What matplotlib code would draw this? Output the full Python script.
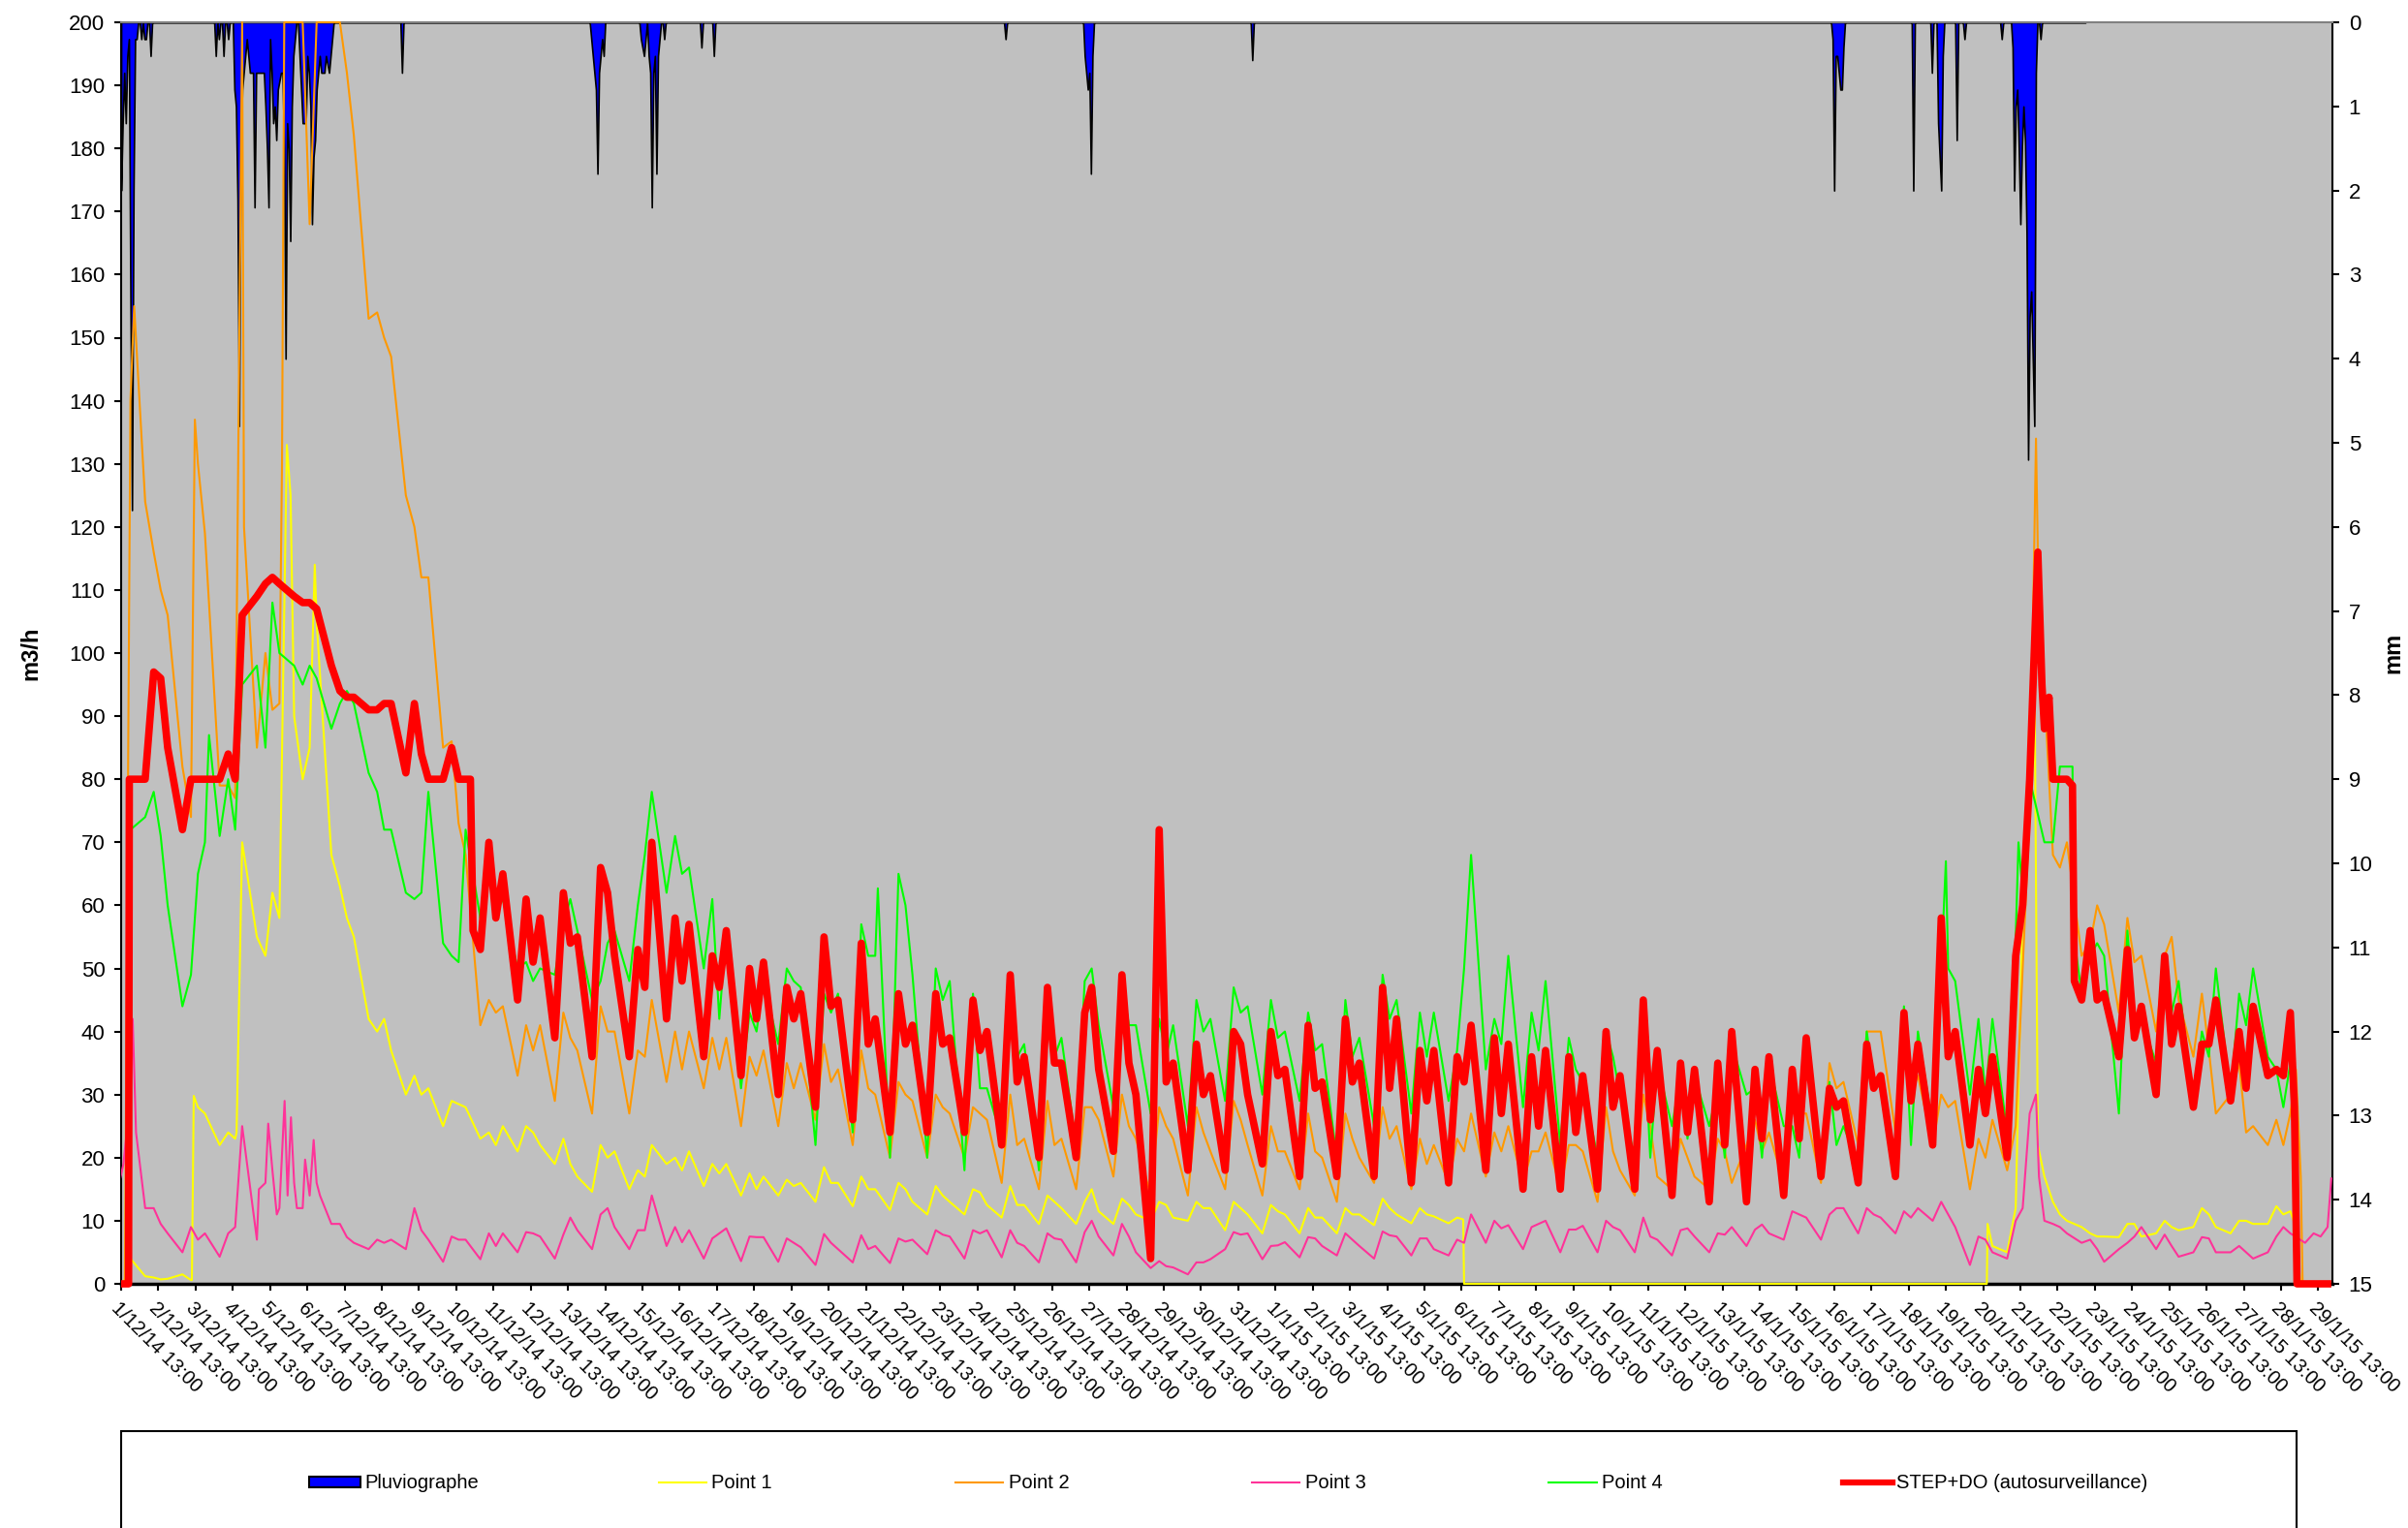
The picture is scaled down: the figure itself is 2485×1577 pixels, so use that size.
import numpy as np
import matplotlib
matplotlib.use("Agg")
import matplotlib.pyplot as plt
from matplotlib.patches import Rectangle
from matplotlib.lines import Line2D
from matplotlib.transforms import ScaledTranslation

plt.rcParams["font.family"] = ["Liberation Sans", "DejaVu Sans"]

W, H = 2485, 1577
GREY = "#C0C0C0"
C_RAIN = "#0000FF"
C_P1 = "#FFFF00"
C_P2 = "#FF9900"
C_P3 = "#FF3399"
C_P4 = "#00FF00"
C_STEP = "#FF0000"
nan = np.nan

# one tick per day, 13:00
TICK_LABELS = [f"{d}/12/14 13:00" for d in range(1, 32)] + [f"{d}/1/15 13:00" for d in range(1, 30)]

# four readings per day, offsets (days) from the 13:00 tick: 04:30, 10:00, 14:30, 19:00
SAMPLE_OFFSETS = [-0.354, -0.125, 0.0625, 0.25]

# STEP+DO (autosurveillance), m3/h, one row per day
STEP = [
    [0, 0, 0, 80], [80, 97, 96, 85], [72, 80, 80, 80], [80, 84, 80, 106], [109, 111, 112, 111],
    [109, 108, 108, 107], [98, 94, 93, 93], [91, 91, 92, 92], [81, 92, 84, 80], [80, 85, 80, 80],
    [53, 70, 58, 65], [45, 61, 51, 58], [39, 62, 54, 55], [36, 66, 62, 52], [36, 53, 47, 70],
    [42, 58, 48, 57], [36, 52, 47, 56], [33, 50, 42, 51], [30, 47, 42, 46], [28, 55, 44, 45],
    [26, 54, 38, 42], [24, 46, 38, 41], [24, 46, 38, 39], [24, 45, 37, 40], [22, 49, 32, 36],
    [20, 47, 35, 35], [20, 43, 47, 34], [21, 49, 35, 30], [4, 72, 32, 35], [18, 38, 30, 33],
    [18, 40, 38, 30], [19, 40, 33, 34], [17, 41, 31, 32], [17, 42, 32, 35], [17, 47, 31, 42],
    [16, 37, 29, 37], [16, 36, 32, 41], [18, 39, 27, 38], [15, 36, 25, 37], [15, 36, 24, 33],
    [15, 40, 28, 33], [15, 45, 26, 37], [14, 35, 24, 34], [13, 35, 22, 40], [13, 34, 23, 36],
    [14, 34, 23, 39], [17, 31, 28, 29], [16, 38, 31, 33], [17, 43, 29, 38], [22, 58, 36, 40],
    [22, 34, 27, 36], [20, 52, 60, 80], [88, 80, 80, 80], [45, 56, 45, 46], [36, 53, 39, 44],
    [30, 52, 38, 44], [28, 38, 38, 45], [29, 40, 31, 44], [33, 34, 33, 43], [0, 0, 0, 0],
]
STEP_EXTRA = [(0.2, 0), (0.22, 80), (9.38, 80), (9.45, 56), (51.47, 116), (51.58, 95),
              (51.77, 93), (52.4, 79), (52.45, 48), (58.36, 28), (58.43, 0)]

POINT4 = [
    [nan, nan, nan, 72], [74, 78, 71, 60], [44, 49, 65, 70], [71, 80, 72, 95], [98, 85, 108, 100],
    [98, 95, 98, 96], [88, 92, 94, 92], [81, 78, 72, 72], [62, 61, 62, 78], [54, 52, 51, 72],
    [58, 70, 59, 61], [50, 51, 48, 50], [49, 57, 61, 56], [45, 48, 54, 56], [48, 60, 68, 78],
    [62, 71, 65, 66], [50, 61, 42, 56], [31, 43, 40, 48], [38, 50, 48, 47], [22, 46, 43, 46],
    [24, 57, 52, 52], [20, 65, 60, 49], [20, 50, 45, 48], [18, 46, 31, 31], [23, 42, 36, 38],
    [18, 45, 36, 39], [22, 48, 50, 41], [28, 48, 41, 41], [27, 42, 36, 41], [25, 45, 40, 42],
    [29, 47, 43, 44], [30, 45, 39, 40], [29, 43, 37, 38], [20, 45, 36, 39], [25, 49, 42, 45],
    [27, 43, 36, 43], [29, 37, 50, 68], [34, 42, 38, 52], [28, 43, 37, 48], [22, 39, 34, 32],
    [20, 40, 36, 30], [20, 42, 20, 35], [25, 33, 23, 33], [25, 31, 20, 38], [30, 31, 20, 35],
    [25, 25, 20, 38], [19, 32, 22, 25], [19, 40, 32, 33], [19, 44, 22, 40], [25, 50, 50, 48],
    [30, 42, 30, 42], [24, 55, 62, 80], [70, 70, 82, 82], [46, 52, 54, 52], [27, 56, 42, 42],
    [35, 52, 43, 48], [28, 40, 36, 50], [30, 46, 41, 50], [36, 34, 28, 35], [nan, nan, nan, nan],
]
POINT4_EXTRA = [(2.36, 87), (20.32, 62.7), (49.0, 67), (50.95, 70), (52.4, 82), (52.44, 55), (58.31, 26)]

POINT2 = [
    [0, 0, 0, 140], [124, 116, 110, 106], [82, 74, 130, 119], [79, 79, 77, 200], [85, 100, 91, 92],
    [200, 200, 168, 200], [200, 200, 192, 182], [153, 154, 150, 147], [125, 120, 112, 112], [85, 86, 73, 68],
    [41, 45, 43, 44], [33, 41, 37, 41], [29, 43, 39, 37], [27, 44, 40, 40], [27, 37, 36, 45],
    [32, 40, 34, 40], [31, 39, 34, 39], [25, 36, 33, 37], [25, 35, 31, 35], [26, 38, 32, 34],
    [22, 37, 31, 30], [20, 32, 30, 29], [20, 30, 28, 27], [20, 28, 27, 26], [16, 30, 22, 23],
    [15, 29, 22, 23], [15, 28, 28, 26], [17, 30, 25, 23], [14, 28, 25, 23], [14, 28, 24, 21],
    [15, 29, 26, 22], [14, 25, 21, 21], [15, 27, 21, 20], [13, 27, 23, 20], [16, 28, 23, 25],
    [15, 23, 19, 22], [16, 23, 21, 27], [17, 24, 21, 25], [16, 21, 21, 24], [15, 22, 22, 21],
    [13, 28, 21, 18], [14, 30, 25, 17], [15, 23, 20, 17], [15, 23, 21, 16], [22, 26, 21, 24],
    [16, 28, 27, 27], [16, 35, 31, 32], [22, 40, 40, 40], [24, 40, 30, 33], [22, 30, 28, 29],
    [15, 23, 20, 26], [18, 25, 50, 75], [94, 68, 66, 70], [52, 54, 60, 57], [43, 58, 51, 52],
    [40, 52, 55, 45], [36, 46, 37, 27], [30, 35, 24, 25], [22, 26, 22, 27], [0, 0, 0, 0],
]
POINT2_EXTRA = [(0.1, 0), (0.35, 155), (1.98, 137), (3.3, 120), (4.32, 130), (4.38, 200),
                (51.32, 98), (51.42, 134), (51.5, 105), (58.4, 34), (58.53, 17), (58.58, 0)]

POINT1 = [
    [0, 0, 0, 4], [1.2, 1.0, 0.7, 0.8], [1.5, 0.6, 28, 27], [22, 24, 23, 70], [55, 52, 62, 58],
    [90, 80, 85, 105], [68, 63, 58, 55], [42, 40, 42, 37], [30, 33, 30, 31], [25, 29, 28.5, 28],
    [23, 24, 22, 25], [21, 25, 24, 22], [19, 23, 19, 17], [14.6, 22, 20, 21], [15, 18, 17, 22],
    [19, 20, 18, 21], [15.5, 19, 17.5, 19], [14, 17.5, 15, 17], [14, 16.5, 15.5, 16], [13, 18.5, 16, 16],
    [12.3, 17, 15, 15], [11.7, 16, 15, 13], [11, 15.5, 14, 13], [11, 15, 14.5, 12.5], [10.5, 15.5, 12.5, 12.5],
    [9.5, 14, 13, 12], [9.5, 13, 15, 11.5], [9.5, 13.5, 12.5, 11], [10, 13, 12.5, 10.5], [10, 13, 12, 12],
    [8.5, 13, 12, 11], [8, 12.5, 11.5, 11], [8, 12, 10.5, 10.5], [8, 12, 11, 11], [9.3, 13.5, 12, 11],
    [9.6, 12, 11, 10.7], [9.6, 10.5, 0, 0], [0, 0, 0, 0], [0, 0, 0, 0], [0, 0, 0, 0],
    [0, 0, 0, 0], [0, 0, 0, 0], [0, 0, 0, 0], [0, 0, 0, 0], [0, 0, 0, 0],
    [0, 0, 0, 0], [0, 0, 0, 0], [0, 0, 0, 0], [0, 0, 0, 0], [0, 0, 0, 0],
    [0, 0, 0, 6], [5, 12, 60, 90], [17, 13, 11, 10], [9, 8, 7.5, 7.5], [7.4, 9.5, 9.5, 7.5],
    [8, 10, 9, 8.5], [9, 12, 11, 9], [8, 10, 10, 9.5], [9.5, 12.3, 11, 11.5], [0, 0, 0, 0],
]
POINT1_EXTRA = [(1.9, 0.6), (1.95, 29.8), (3.1, 24), (4.45, 133), (4.55, 125), (5.2, 114),
                (36.04, 10.2), (50.1, 0), (50.12, 9.5), (51.38, 97), (51.47, 22), (58.4, 9), (58.52, 0)]

POINT3 = [
    [14, 14, 19, 30], [12, 12, 9.5, 8], [5, 9, 7, 8], [4.3, 8, 9, 25], [7, 16, 18, 12],
    [16, 12, 14, 16], [9.5, 9.5, 7.4, 6.5], [5.5, 7, 6.5, 7], [5.5, 12, 8.5, 7], [3.5, 7.5, 7, 7],
    [3.9, 8, 6, 8], [5, 8.2, 8, 7.5], [4, 7.8, 10.5, 8.5], [5.5, 11, 12, 9], [5.5, 8.5, 8.5, 14],
    [6, 9, 6.6, 8.5], [4, 7.2, 8, 8.8], [3.6, 7.5, 7.4, 7.4], [3.5, 7.2, 6.5, 5.8], [3, 7.9, 6.5, 5.5],
    [3.4, 7.7, 5.5, 6], [3.3, 7.2, 6.7, 7], [4.7, 8.5, 7.8, 7.5], [4, 8.5, 8, 8.5], [4.2, 8.5, 6.5, 6],
    [3.4, 8, 7.2, 7], [3.4, 8.2, 10, 7.5], [4.5, 9.5, 7.5, 5], [2.5, 3.6, 2.8, 2.6], [1.5, 3.4, 3.4, 3.9],
    [5.5, 8.2, 7.8, 8], [3.9, 6, 6.1, 6.6], [4.2, 7.4, 7.2, 6], [4.5, 8, 7, 6], [4, 8.3, 7.7, 7.5],
    [4.5, 7.2, 7.2, 5.5], [4.5, 7, 6.5, 11], [6.5, 10, 8.8, 9.3], [5.5, 9, 9.5, 10], [5, 8.6, 8.6, 9.2],
    [5, 10, 9, 8.5], [5, 10.5, 7.5, 7], [4.5, 8.5, 8.8, 7.5], [5, 8, 7.8, 9], [6, 8.6, 9.4, 8],
    [7, 11.5, 11, 10.5], [7, 11, 12, 12], [8, 12, 11, 10.5], [8, 11.5, 10.5, 12], [10, 13, 11, 9],
    [3, 7.5, 7, 5], [4, 10, 12, 27], [10, 9.5, 9, 8], [6.5, 7, 5.5, 3.5], [5.5, 6.5, 7.5, 9],
    [5.5, 7.8, 6, 4.3], [5, 7.4, 7.2, 5], [5, 6, 5, 4], [5, 7.5, 9, 8], [6.5, 8, 7.5, 9],
]
POINT3_EXTRA = [(0.31, 42), (0.4, 24), (3.7, 15), (3.95, 25.4), (4.18, 11), (4.39, 29), (4.47, 14),
                (4.56, 26.4), (4.72, 12), (4.94, 19.7), (5.17, 22.8), (5.34, 14),
                (51.42, 30), (51.5, 17), (59.35, 16.7)]

# Pluviographe: hourly rain (mm), hour counted from 1/12/14 13:00; hours not listed had no rain
RAIN_END_HOUR = 1266
RAIN_HOURS = (
    [0, 1, 2, 3, 4, 5, 6, 7, 8, 9, 10, 13, 15, 16, 19, 61, 63, 66, 69]
    + list(range(73, 137))
    + [181, 303, 304, 305, 306, 307, 308, 309, 310, 311,
       335, 336, 337, 338, 340, 341, 342, 343, 344, 345, 346, 347, 350, 374, 382, 570,
       621, 622, 623, 624, 625, 626, 729,
       1103, 1104, 1105, 1106, 1107, 1108, 1109, 1110, 1155, 1167, 1171, 1172, 1173, 1174,
       1183, 1188, 1212, 1219, 1220, 1221, 1222, 1223, 1224, 1225, 1226, 1227, 1228, 1229,
       1230, 1231, 1232, 1233, 1234, 1237]
)
RAIN_MM = (
    [2.0, 1.2, 0.6, 1.2, 0.4, 0.2, 3.3, 5.8, 2.0, 0.2, 0.2, 0.2, 0.2, 0.2, 0.4, 0.4, 0.2, 0.4, 0.2]
    + [0.8, 1.0, 2.1, 4.8, 1.5, 0.8, 0.6, 0.4, 0.2, 0.4, 0.6, 0.6, 0.6, 2.2, 0.6, 0.6,
       0.6, 0.6, 0.6, 0.6, 1.0, 1.5, 2.2, 0.2, 0.6, 1.2, 1.0, 1.4, 0.8, 0.7, 0.6, 0.6,
       1.5, 4.0, 1.2, 1.5, 2.6, 1.0, 0.4, 0.2, 0.0, 0.0, 0.4, 0.8, 1.2, 1.2, 1.2, 0.4,
       0.6, 1.0, 2.4, 1.6, 1.4, 0.8, 0.6, 0.4, 0.6, 0.6, 0.6, 0.4, 0.5, 0.6, 0.4, 0.2]
    + [0.6, 0.2, 0.4, 0.6, 0.8, 1.8, 0.6, 0.4, 0.2, 0.4,
       0.2, 0.3, 0.4, 0.2, 0.4, 0.6, 2.2, 0.6, 0.4, 1.8, 0.4, 0.2, 0.2, 0.3, 0.4, 0.2,
       0.4, 0.6, 0.8, 0.6, 1.8, 0.4, 0.45,
       0.2, 2.0, 0.4, 0.4, 0.6, 0.8, 0.8, 0.3, 2.0, 0.6, 1.2, 1.6, 2.0, 0.4,
       1.4, 0.2, 0.2, 0.3, 2.0, 1.0, 0.8, 1.5, 2.4, 1.5, 1.0, 1.4, 2.5, 5.2,
       3.5, 3.2, 4.0, 4.8, 0.6, 0.2]
)


def build(rows, extra):
    t = [d + off for d, row in enumerate(rows) for off in SAMPLE_OFFSETS]
    v = [x for row in rows for x in row]
    t += [e[0] for e in extra]
    v += [e[1] for e in extra]
    order = np.argsort(t, kind="stable")
    return np.asarray(t)[order], np.asarray(v, dtype=float)[order]


def fx(px):
    return px / W


def fy(py):
    return 1 - py / H


fig = plt.figure(figsize=(W / 100, H / 100), dpi=100)
fig.patch.set_facecolor("white")

ax = fig.add_axes([fx(125), fy(1325), fx(2407) - fx(125), fy(23) - fy(1325)])
ax2 = ax.twinx()
ax.set_zorder(ax2.get_zorder() + 1)
ax.patch.set_visible(False)
ax2.patch.set_visible(True)
ax2.patch.set_facecolor(GREY)

# rain on the inverted right axis
rain_t = np.arange(RAIN_END_HOUR + 1) / 24.0
rain = np.zeros(RAIN_END_HOUR + 1)
rain[RAIN_HOURS] = RAIN_MM
ax2.fill_between(rain_t, 0, rain, facecolor=C_RAIN, edgecolor="black", linewidth=1.2)
ax2.set_ylim(15, 0)
ax2.set_yticks(range(0, 16))

# flows, drawn above the axis lines like the original
series = [
    (POINT1, POINT1_EXTRA, C_P1, 1.5),
    (POINT2, POINT2_EXTRA, C_P2, 1.5),
    (POINT3, POINT3_EXTRA, C_P3, 1.5),
    (POINT4, POINT4_EXTRA, C_P4, 1.5),
    (STEP, STEP_EXTRA, C_STEP, 5.5),
]
for rows, extra, color, lw in series:
    t, v = build(rows, extra)
    (ln,) = ax.plot(t, v, color=color, linewidth=lw, solid_joinstyle="round", zorder=3)
    ln.set_clip_path(Rectangle((0, -0.006), 1, 1.012, transform=ax.transAxes))

ax.set_xlim(0, 59.38)
ax.set_ylim(0, 200)
ax.set_yticks(range(0, 201, 10))
ax.set_xticks(range(len(TICK_LABELS)))
ax.set_xticklabels(TICK_LABELS, rotation=-45, ha="left", va="top", rotation_mode="anchor", fontsize=14.5)
shift = ScaledTranslation(5 / 100, 0, fig.dpi_scale_trans)
for lab in ax.get_xticklabels():
    lab.set_transform(lab.get_transform() + shift)

ax.tick_params(axis="y", direction="out", length=5, width=1.5, pad=7, labelsize=16)
ax.tick_params(axis="x", direction="out", length=5, width=1.5, pad=6)
ax2.tick_params(axis="y", direction="out", length=5, width=1.5, pad=7, labelsize=16)

for side in ["left", "bottom", "top"]:
    ax2.spines[side].set_visible(False)
ax2.spines["right"].set_color("black")
ax2.spines["right"].set_linewidth(1.5)
ax.spines["right"].set_visible(False)
ax.spines["left"].set_color("black")
ax.spines["left"].set_linewidth(1.5)
ax.spines["bottom"].set_color("black")
ax.spines["bottom"].set_linewidth(2.5)
ax.spines["top"].set_color("#808080")
ax.spines["top"].set_linewidth(1.5)

fig.text(fx(32), fy(674), "m3/h", rotation=90, fontsize=17, fontweight="bold", ha="center", va="center")
fig.text(fx(2470), fy(674), "mm", rotation=90, fontsize=17, fontweight="bold", ha="center", va="center")

# legend box along the bottom (runs off the page like the original)
fig.add_artist(Rectangle((fx(125), fy(1600)), fx(2370) - fx(125), fy(1477) - fy(1600),
                         transform=fig.transFigure, fill=False, edgecolor="black", linewidth=1.5))
ly = fy(1530)
fig.add_artist(Rectangle((fx(319), fy(1535)), fx(53), 11 / H, transform=fig.transFigure,
                         facecolor=C_RAIN, edgecolor="black", linewidth=1.5))
fig.text(fx(376), ly, "Pluviographe", fontsize=14.5, va="center", ha="left")
legend_lines = [
    (680, 729, 734, C_P1, 1.5, "Point 1"),
    (986, 1035, 1041, C_P2, 1.5, "Point 2"),
    (1292, 1341, 1347, C_P3, 1.5, "Point 3"),
    (1598, 1648, 1653, C_P4, 1.5, "Point 4"),
    (1902, 1953, 1957, C_STEP, 4.5, "STEP+DO (autosurveillance)"),
]
for x0, x1, xt, color, lw, label in legend_lines:
    fig.add_artist(Line2D([fx(x0), fx(x1)], [ly, ly], transform=fig.transFigure, color=color, linewidth=lw))
    fig.text(fx(xt), ly, label, fontsize=14.5, va="center", ha="left")

fig.savefig("out.png", dpi=100, facecolor="white")
